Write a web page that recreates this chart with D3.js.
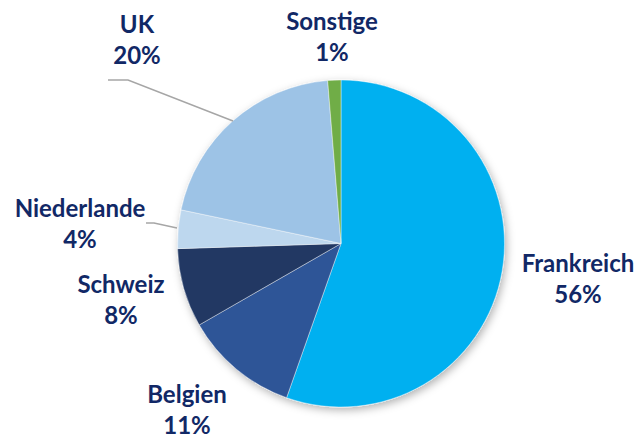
<!DOCTYPE html>
<html>
<head>
<meta charset="utf-8">
<script src="https://cdn.jsdelivr.net/npm/d3@7"></script>
<style>
	body { margin: 0; background: #fff; }
	.lbl { font-family: Lato, "Open Sans", sans-serif; font-weight: 700; fill: #112866; }
</style>
</head>
<body>
<svg id="chart" width="640" height="439"></svg>
<script>
// data (clockwise from 12 o'clock)
var countries = ["Frankreich", "Belgien", "Schweiz", "Niederlande", "UK", "Sonstige"];
var shares = [55.4, 11.3, 7.8, 3.8, 20.4, 1.3];
var pctLabels = ["56%", "11%", "8%", "4%", "20%", "1%"];
var colors = ["#00b0f0", "#2f5597", "#203864", "#bdd7ee", "#9dc3e6", "#70ad47"];

// where the labels sit (centre of the label block), like in the original sheet
var labelCenters = [[578, 272], [187, 403], [121, 293], [80, 217], [137, 33], [332, 30]];

var svg = d3.select("#chart");
var cx = 341, cy = 243.5, radius = 163.5;

var defs = svg.append("defs");
var f = defs.append("filter").attr("id", "shadow")
	.attr("x", "-20%").attr("y", "-20%").attr("width", "140%").attr("height", "140%");
f.append("feDropShadow")
	.attr("dx", 2).attr("dy", 3).attr("stdDeviation", 4)
	.attr("flood-color", "#000").attr("flood-opacity", 0.3);

var color = d3.scaleOrdinal().domain(countries).range(colors);

var pie = d3.pie()
	.sort(null)
	.value(function(d, i) { return shares[i]; });

var arc = d3.arc().innerRadius(0).outerRadius(radius);

var g = svg.append("g")
	.attr("transform", "translate(" + cx + "," + cy + ")");

var pieG = g.append("g").attr("filter", "url(#shadow)");

pieG.selectAll("path.slice")
	.data(pie(countries))
	.enter()
	.append("path")
		.attr("class", "slice")
		.attr("d", arc)
		.attr("fill", function(d) { return color(d.data); })
		.attr("stroke", "#ffffff")
		.attr("stroke-width", 0.4);

// leader lines for the two labels pulled away from their slices
var leaders = [
	[[108, 80], [128, 80], [233, 121]],
	[[146, 223], [154, 223], [177, 228]]
];
svg.selectAll("path.leader")
	.data(leaders)
	.enter()
	.append("path")
		.attr("class", "leader")
		.attr("d", d3.line())
		.attr("fill", "none")
		.attr("stroke", "#a6a6a6")
		.attr("stroke-width", 1.5);

// labels: name on the first line, percentage below
var labels = svg.selectAll("text.lbl")
	.data(countries)
	.enter()
	.append("text")
		.attr("class", "lbl")
		.attr("text-anchor", "middle")
		.attr("font-size", 24);

labels.append("tspan")
	.attr("x", function(d, i) { return labelCenters[i][0]; })
	.attr("y", function(d, i) { return labelCenters[i][1]; })
	.text(function(d) { return d; });

labels.append("tspan")
	.attr("x", function(d, i) { return labelCenters[i][0]; })
	.attr("dy", 31)
	.text(function(d, i) { return pctLabels[i]; });
</script>
</body>
</html>
